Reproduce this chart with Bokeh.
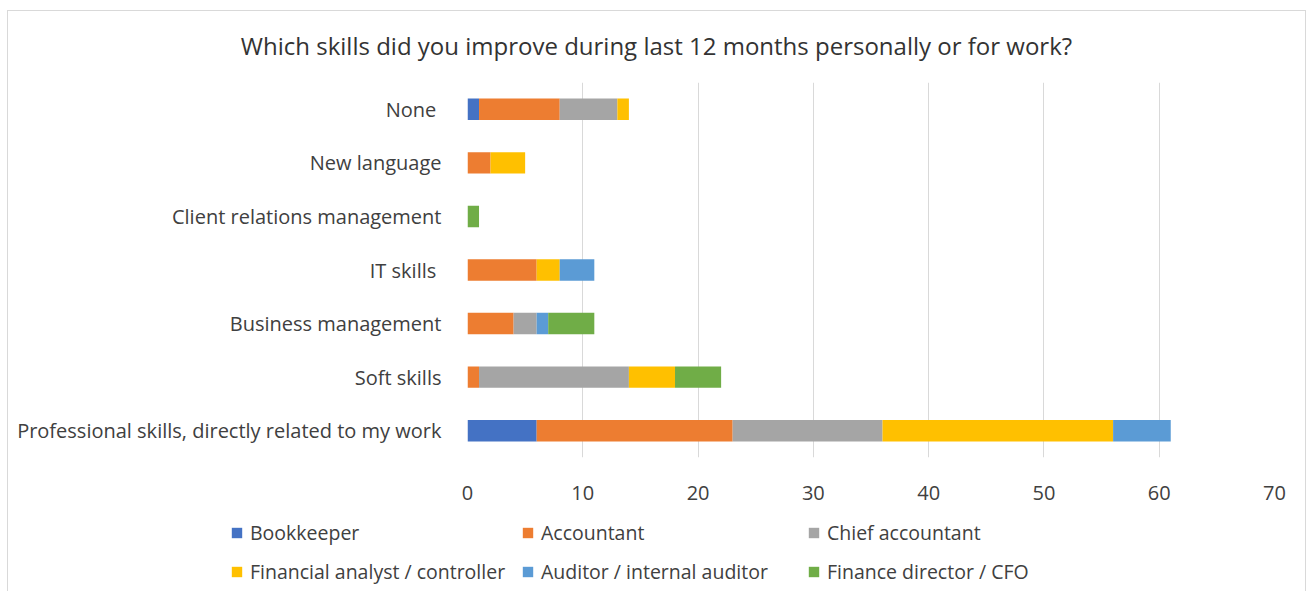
from bokeh.plotting import figure
from bokeh.models import Legend, LegendItem, FactorRange, Range1d, FixedTicker, Label
from bokeh.embed import file_html
from bokeh.resources import INLINE

title_text = "Which skills did you improve during last 12 months personally or for work?"
categories = [
    "Professional skills, directly related to my work",
    "Soft skills",
    "Business management",
    "IT skills ",
    "Client relations management",
    "New language",
    "None ",
]
bookkeeper = [6, 0, 0, 0, 0, 0, 1]
accountant = [17, 1, 4, 6, 0, 2, 7]
chief_accountant = [13, 13, 2, 0, 0, 0, 5]
financial_analyst = [20, 4, 0, 2, 0, 3, 1]
auditor = [5, 0, 1, 3, 0, 0, 0]
finance_director = [0, 4, 4, 0, 1, 0, 0]
series_names = ["Bookkeeper", "Accountant", "Chief accountant",
                "Financial analyst / controller", "Auditor / internal auditor",
                "Finance director / CFO"]
x_ticks = [0, 10, 20, 30, 40, 50, 60, 70]

colors = ["#4472C4", "#ED7D31", "#A5A5A5", "#FFC000", "#5B9BD5", "#70AD47"]
keys = ["b", "a", "c", "f", "au", "fd"]
data = dict(cat=categories, b=bookkeeper, a=accountant, c=chief_accountant,
            f=financial_analyst, au=auditor, fd=finance_director)

FONT = "Open Sans"
TXT = "#404040"
BORDER = "1px solid #d9d9d9"


def strip(height):
    f = figure(width=1299, height=height, x_range=Range1d(0, 1), y_range=Range1d(0, 1),
               output_backend="svg", toolbar_location=None,
               min_border_left=0, min_border_right=0, min_border_top=0,
               min_border_bottom=0)
    f.axis.visible = False
    f.grid.grid_line_color = None
    f.outline_line_color = None
    return f


# title strip
tf = strip(72)
tf.styles = {"border-top": BORDER, "border-left": BORDER, "border-right": BORDER,
             "margin-left": "7px", "margin-top": "10px"}
tf.add_layout(Label(x=648, y=38, x_units="screen", y_units="screen", text=title_text,
                    text_align="center", text_baseline="middle", text_font=FONT,
                    text_font_size="24px", text_color="#333333"))

# main chart
p = figure(width=1299, height=428, y_range=FactorRange(*categories, range_padding=0),
           x_range=Range1d(0, 70), output_backend="svg", toolbar_location=None,
           min_border_left=459, min_border_right=33, min_border_top=0,
           min_border_bottom=53)
p.styles = {"border-left": BORDER, "border-right": BORDER, "margin-left": "7px"}

renderers = p.hbar_stack(keys, y="cat", height=0.4, color=colors, source=data,
                         line_width=0)

p.outline_line_color = None
p.ygrid.grid_line_color = None
p.xgrid.grid_line_color = "#d9d9d9"
p.xgrid.grid_line_width = 1
p.xaxis.ticker = FixedTicker(ticks=x_ticks)

for ax in (p.xaxis[0], p.yaxis[0]):
    ax.axis_line_color = None
    ax.major_tick_line_color = None
    ax.minor_tick_line_color = None
    ax.major_label_text_font = FONT
    ax.major_label_text_font_size = "20px"
    ax.major_label_text_color = TXT
p.xaxis.major_label_standoff = 22
p.yaxis.major_label_standoff = 20

# legend strip under the chart
lf = strip(81)
lf.styles = {"border-left": BORDER, "border-right": BORDER, "margin-left": "7px"}
# zero-width swatch glyphs: they only lend their colour to the legend entries
swatches = [lf.hbar(y=[0.5], left=[0], right=[0], height=0.0, color=c, line_width=0)
            for c in colors]

positions = [(222, 45), (513, 45), (799, 45), (222, 6), (513, 6), (799, 6)]
for r, name, loc in zip(swatches, series_names, positions):
    lg = Legend(items=[LegendItem(label=name, renderers=[r])], location=loc,
                padding=0, margin=0, spacing=0, border_line_color=None,
                background_fill_alpha=0, glyph_width=13, glyph_height=13,
                label_standoff=7, label_text_font=FONT, label_text_font_size="19.5px",
                label_text_color=TXT)
    lf.add_layout(lg, "center")

open("out.html", "w").write(file_html([tf, p, lf], INLINE))
